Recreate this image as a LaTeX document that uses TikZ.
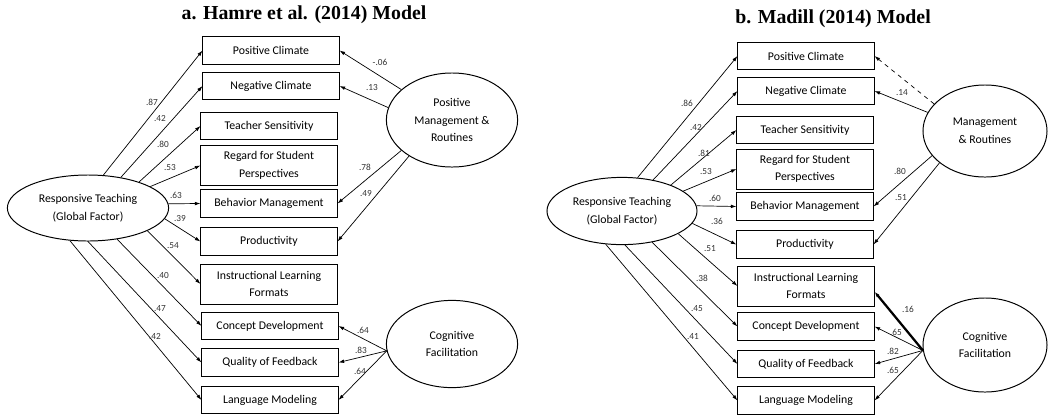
\documentclass[tikz,border=0pt]{standalone}
\usepackage{fontspec}
\setmainfont{Carlito}
\newfontfamily\titlefont{Liberation Serif}
\usetikzlibrary{shapes.geometric,arrows.meta}

\begin{document}
\begin{tikzpicture}[x=0.025cm, y=-0.025cm,
  indicator/.style={draw, line width=0.7pt, minimum width=3.4cm,
    minimum height=0.68cm, inner sep=1pt, align=center,
    font=\fontsize{8.4}{12.5}\selectfont},
  tall/.style={minimum height=1cm},
  factor/.style={ellipse, draw, line width=0.7pt, inner sep=0pt,
    align=center, font=\fontsize{8.4}{12.5}\selectfont},
  load/.style={-{Latex[length=4pt,width=2.6pt]}, line width=0.5pt},
  coef/.style={font=\fontsize{6.6}{7}\selectfont, text=black!80, inner sep=0pt},
  heading/.style={font=\titlefont\bfseries\fontsize{14.1}{16}\selectfont},
]
  \useasboundingbox (0,0) rectangle (1048,417);

  % ---------- a. Hamre et al. (2014) ----------
  \node[heading] (ta) at (304,15) {a. Hamre et al. (2014) Model};

  % Indicators
  \node[indicator] (pca)  at (271,50.5)  {Positive Climate};
  \node[indicator] (nca)  at (271,86)    {Negative Climate};
  \node[indicator] (tsa)  at (269,126)   {Teacher Sensitivity};
  \node[indicator, tall] (rspa) at (269,165.5) {Regard for Student\\Perspectives};
  \node[indicator] (bma)  at (269,203.5) {Behavior Management};
  \node[indicator] (pra)  at (269,241.5) {Productivity};
  \node[indicator, tall] (ilfa) at (269,284) {Instructional Learning\\Formats};
  \node[indicator] (cda)  at (270,326)   {Concept Development};
  \node[indicator] (qfa)  at (270,362.5) {Quality of Feedback};
  \node[indicator] (lma)  at (270,400)   {Language Modeling};

  % Factors
  \node[factor, minimum width=4.03cm, minimum height=1.65cm] (rta) at (88,208)
    {Responsive Teaching\\(Global Factor)};
  \node[factor, minimum width=3.28cm, minimum height=2.35cm] (pmra) at (452,120)
    {Positive\\Management \&\\Routines};
  \node[factor, minimum width=3.28cm, minimum height=2.18cm] (cfa) at (452,344)
    {Cognitive\\Facilitation};

  % Global factor loadings
  \draw[load] (rta.65)   -- (pca.west);
  \draw[load] (rta.43)   -- (nca.west);
  \draw[load] (rta.27)   -- (tsa.west);
  \draw[load] (rta.19)   -- (rspa.west);
  \draw[load] (rta.3)    -- (bma.west);
  \draw[load] (rta.-8)   -- (pra.west);
  \draw[load] (rta.-21)  -- (ilfa.west);
  \draw[load] (rta.-47)  -- (cda.west);
  \draw[load] (rta.-90)  -- (qfa.west);
  \draw[load] (rta.-119) -- (lma.west);

  % Management loadings
  \draw[load] (pmra.149) -- (pca.east);
  \draw[load] (pmra.169) -- (nca.east);
  \draw[load] (pmra.211) -- (bma.east);
  \draw[load] (pmra.220) -- (pra.east);

  % Cognitive loadings
  \draw[load] (cfa.186) -- (cda.east);
  \draw[load] (cfa.186) -- (qfa.east);
  \draw[load] (cfa.186) -- (lma.east);

  % Coefficients
  \node[coef] (ca1)  at (152,102) {.87};
  \node[coef] (ca2)  at (160,119) {.42};
  \node[coef] (ca3)  at (163,144) {.80};
  \node[coef] (ca4)  at (170,168) {.53};
  \node[coef] (ca5)  at (176,195) {.63};
  \node[coef] (ca6)  at (180,219) {.39};
  \node[coef] (ca7)  at (173,246) {.54};
  \node[coef] (ca8)  at (163,276) {.40};
  \node[coef] (ca9)  at (160,309) {.47};
  \node[coef] (ca10) at (155,337) {.42};
  \node[coef] (ca11) at (380,62)  {-.06};
  \node[coef] (ca12) at (372,88)  {.13};
  \node[coef] (ca13) at (365,167) {.78};
  \node[coef] (ca14) at (366,194) {.49};
  \node[coef] (ca15) at (363,330) {.64};
  \node[coef] (ca16) at (361,350) {.83};
  \node[coef] (ca17) at (360,371) {.64};

  % ---------- b. Madill (2014) ----------
  \node[heading] (tb) at (833,19) {b. Madill (2014) Model};

  % Indicators
  \node[indicator] (pcb)  at (806,56)    {Positive Climate};
  \node[indicator] (ncb)  at (806,91)    {Negative Climate};
  \node[indicator] (tsb)  at (805,130)   {Teacher Sensitivity};
  \node[indicator, tall] (rspb) at (805,169) {Regard for Student\\Perspectives};
  \node[indicator] (bmb)  at (805,206.5) {Behavior Management};
  \node[indicator] (prb)  at (805,244.5) {Productivity};
  \node[indicator, tall] (ilfb) at (806,286) {Instructional Learning\\Formats};
  \node[indicator] (cdb)  at (806,326.5) {Concept Development};
  \node[indicator] (qfb)  at (806,364)   {Quality of Feedback};
  \node[indicator] (lmb)  at (806,400.5) {Language Modeling};

  % Factors
  \node[factor, minimum width=3.75cm, minimum height=1.68cm] (rtb) at (622,211)
    {Responsive Teaching\\(Global Factor)};
  \node[factor, minimum width=3.1cm, minimum height=2.3cm] (mrb) at (985,131)
    {Management\\\& Routines};
  \node[factor, minimum width=3.1cm, minimum height=2.35cm] (cfb) at (985,345)
    {Cognitive\\Facilitation};

  % Global factor loadings
  \draw[load] (rtb.65)   -- (pcb.west);
  \draw[load] (rtb.45)   -- (ncb.west);
  \draw[load] (rtb.28)   -- (tsb.west);
  \draw[load] (rtb.18)   -- (rspb.west);
  \draw[load] (rtb.4)    -- (bmb.west);
  \draw[load] (rtb.-10)  -- (prb.west);
  \draw[load] (rtb.-22)  -- (ilfb.west);
  \draw[load] (rtb.-46)  -- (cdb.west);
  \draw[load] (rtb.-85)  -- (qfb.west);
  \draw[load] (rtb.-116) -- (lmb.west);

  % Management loadings
  \draw[load, dashed] (mrb.152) -- (pcb.east);
  \draw[load] (mrb.162) -- (ncb.east);
  \draw[load] (mrb.205) -- (bmb.east);
  \draw[load] (mrb.215) -- (prb.east);

  % Cognitive loadings
  \draw[load, line width=1.6pt] (cfb.185) -- ([yshift=-4pt]ilfb.east);
  \draw[load] (cfb.185) -- (cdb.east);
  \draw[load] (cfb.185) -- (qfb.east);
  \draw[load] (cfb.185) -- (lmb.east);

  % Coefficients
  \node[coef] (cb1)  at (687,103) {.86};
  \node[coef] (cb2)  at (696,128) {.42};
  \node[coef] (cb3)  at (704,153) {.81};
  \node[coef] (cb4)  at (706,172) {.53};
  \node[coef] (cb5)  at (715,198) {.60};
  \node[coef] (cb6)  at (717,221) {.36};
  \node[coef] (cb7)  at (710,249) {.51};
  \node[coef] (cb8)  at (702,278) {.38};
  \node[coef] (cb9)  at (697,309) {.45};
  \node[coef] (cb10) at (693,337) {.41};
  \node[coef] (cb11) at (902,93)  {.14};
  \node[coef] (cb12) at (900,171) {.80};
  \node[coef] (cb13) at (901,198) {.51};
  \node[coef] (cb14) at (908,309) {.16};
  \node[coef] (cb15) at (896,332) {.65};
  \node[coef] (cb16) at (893,351) {.82};
  \node[coef] (cb17) at (893,370) {.65};
\end{tikzpicture}
\end{document}
